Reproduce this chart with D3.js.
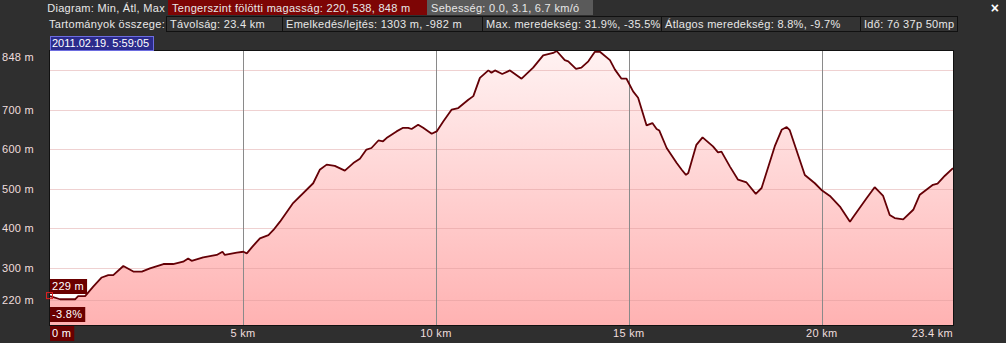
<!DOCTYPE html>
<html>
<head>
<meta charset="utf-8">
<script src="https://cdn.jsdelivr.net/npm/d3@7"></script>
<style>
  body { margin: 0; background: #2f2f2f; }
  svg { display: block; font-family: "Liberation Sans", Arial, sans-serif; letter-spacing: 0.3px; }
  .hdr { font-size: 11px; fill: #e8e8e8; }
  .tick-label { font-size: 11px; fill: #f0dede; }
</style>
</head>
<body>
<div id="chart"></div>
<script>
// Elevation profile
const distanceKm = [0.00, 0.26, 0.65, 0.73, 0.91, 1.12, 1.34, 1.51, 1.64, 1.90, 2.16, 2.38, 2.59, 2.94, 3.19, 3.45, 3.58, 3.67, 3.97, 4.32, 4.47, 4.53, 4.84, 5.01, 5.10, 5.23, 5.44, 5.66, 5.79, 5.96, 6.30, 6.82, 6.99, 7.17, 7.38, 7.64, 7.86, 8.03, 8.20, 8.33, 8.51, 8.63, 8.72, 8.98, 9.15, 9.28, 9.37, 9.54, 9.67, 9.89, 10.02, 10.19, 10.41, 10.58, 10.84, 10.97, 11.14, 11.36, 11.44, 11.53, 11.72, 11.92, 12.22, 12.52, 12.78, 13.04, 13.13, 13.34, 13.43, 13.63, 13.77, 13.95, 14.12, 14.25, 14.51, 14.64, 14.81, 14.94, 15.11, 15.24, 15.46, 15.61, 15.72, 15.79, 15.98, 16.24, 16.37, 16.48, 16.54, 16.75, 16.91, 17.18, 17.31, 17.40, 17.62, 17.83, 18.05, 18.29, 18.44, 18.78, 18.96, 19.09, 19.17, 19.56, 19.82, 19.99, 20.21, 20.47, 20.73, 20.81, 21.16, 21.37, 21.59, 21.76, 21.89, 22.11, 22.37, 22.54, 22.88, 23.00, 23.19, 23.40];
const elevationM = [229, 221, 221, 229, 229, 253, 276, 282, 282, 305, 291, 291, 299, 310, 310, 316, 324, 318, 327, 333, 341, 333, 339, 341, 337, 352, 375, 383, 396, 417, 464, 514, 548, 561, 558, 546, 565, 576, 599, 603, 622, 620, 628, 645, 654, 654, 651, 662, 654, 639, 645, 670, 700, 704, 725, 734, 780, 799, 793, 799, 790, 799, 778, 806, 837, 843, 848, 825, 822, 803, 806, 822, 846, 846, 825, 801, 778, 778, 746, 730, 660, 666, 651, 647, 603, 565, 548, 535, 540, 611, 630, 607, 592, 594, 556, 523, 516, 487, 502, 607, 649, 656, 648, 535, 514, 497, 482, 455, 417, 428, 476, 504, 482, 434, 426, 423, 447, 485, 510, 513, 533, 552];

const yGrid = [800, 700, 600, 500, 400, 300, 220];
const yLabels = [848, 700, 600, 500, 400, 300, 220];
const xTicks = [5, 10, 15, 20];

const headerRow1 = [
  "Tengerszint fölötti magasság: 220, 538, 848 m",
  "Sebesség: 0.0, 3.1, 6.7 km/ó"
];
const headerRow2 = [
  "Távolság: 23.4 km",
  "Emelkedés/lejtés: 1303 m, -982 m",
  "Max. meredekség: 31.9%, -35.5%",
  "Átlagos meredekség: 8.8%, -9.7%",
  "Idő: 7ó 37p 50mp"
];

const W = 1006, H = 343;
const plot = { left: 50, right: 953, top: 51, bottom: 325 };
// header box edges (layout)
const row1Edges = [168, 427, 593];
const row1Fill = ["#7d0505", "#5a5a5a"];
const row2Edges = [166, 282, 482, 661, 860, 957];

const svg = d3.select("#chart").append("svg")
  .attr("width", W).attr("height", H);

svg.append("rect").attr("width", W).attr("height", H).attr("fill", "#2f2f2f");

// header
svg.append("text").attr("class", "hdr").attr("x", 165).attr("y", 12)
  .attr("text-anchor", "end").text("Diagram: Min, Átl, Max");
svg.append("text").attr("class", "hdr").attr("x", 165).attr("y", 28)
  .attr("text-anchor", "end").text("Tartományok összege:");

svg.selectAll(".r1box").data(headerRow1).enter().append("rect")
  .attr("x", (d, i) => row1Edges[i]).attr("y", 0)
  .attr("width", (d, i) => row1Edges[i + 1] - row1Edges[i]).attr("height", 15)
  .attr("fill", (d, i) => row1Fill[i]);
svg.selectAll(".r1txt").data(headerRow1).enter().append("text")
  .attr("class", "hdr").attr("x", (d, i) => row1Edges[i] + 4).attr("y", 12).text(d => d);

svg.selectAll(".r2box").data(headerRow2).enter().append("rect")
  .attr("x", (d, i) => row2Edges[i] + 0.5).attr("y", 16.5)
  .attr("width", (d, i) => row2Edges[i + 1] - row2Edges[i]).attr("height", 15)
  .attr("fill", "#333").attr("stroke", "#111");
svg.selectAll(".r2txt").data(headerRow2).enter().append("text")
  .attr("class", "hdr").attr("x", (d, i) => row2Edges[i] + 4).attr("y", 28).text(d => d);

svg.append("text").attr("x", 995).attr("y", 13).attr("text-anchor", "middle")
  .attr("fill", "#fff").style("font-size", "14px").style("font-weight", "bold").text("×");

// scales
const x = d3.scaleLinear().domain([0, 23.4]).range([plot.left, plot.right]);
const y = d3.scaleLinear().domain([156, 848]).range([plot.bottom, plot.top]);

const data = distanceKm.map((d, i) => ({ km: d, m: elevationM[i] }));

const grad = svg.append("defs").append("linearGradient").attr("id", "fillGrad")
  .attr("gradientUnits", "userSpaceOnUse")
  .attr("x1", 0).attr("x2", 0).attr("y1", plot.top).attr("y2", plot.bottom);
grad.append("stop").attr("offset", 0).attr("stop-color", "#fff2f2");
grad.append("stop").attr("offset", 1).attr("stop-color", "#ffb2b2");

svg.append("rect").attr("x", plot.left).attr("y", plot.top)
  .attr("width", plot.right - plot.left).attr("height", plot.bottom - plot.top)
  .attr("fill", "#fff");

svg.append("path").datum(data)
  .attr("fill", "url(#fillGrad)")
  .attr("d", d3.area().x(d => x(d.km)).y0(plot.bottom).y1(d => y(d.m)));

// grid
svg.selectAll(".hgrid").data(yGrid).enter().append("line")
  .attr("x1", plot.left).attr("x2", plot.right)
  .attr("y1", d => Math.round(y(d)) + 0.5).attr("y2", d => Math.round(y(d)) + 0.5)
  .attr("stroke", "#dc9a9a").attr("stroke-opacity", 0.45);

svg.selectAll(".vgrid").data(xTicks).enter().append("line")
  .attr("x1", d => Math.round(x(d)) + 0.5).attr("x2", d => Math.round(x(d)) + 0.5)
  .attr("y1", plot.top).attr("y2", plot.bottom)
  .attr("stroke", "#8a8a8a");

svg.append("path").datum(data)
  .attr("fill", "none").attr("stroke", "#640006").attr("stroke-width", 1.8)
  .attr("stroke-linejoin", "bevel")
  .attr("d", d3.line().x(d => x(d.km)).y(d => y(d.m)));

// border
svg.append("rect").attr("x", plot.left - 0.5).attr("y", plot.top - 0.5)
  .attr("width", plot.right - plot.left + 1).attr("height", plot.bottom - plot.top + 1)
  .attr("fill", "none").attr("stroke", "#111");

// y labels
svg.selectAll(".ylab").data(yLabels).enter().append("text")
  .attr("class", "tick-label").attr("x", 2)
  .attr("y", d => d === 848 ? y(d) + 10 : y(d) + 4)
  .text(d => d + " m");

// x labels
svg.selectAll(".xlab").data(xTicks).enter().append("text")
  .attr("class", "tick-label").attr("x", d => x(d)).attr("y", 337)
  .attr("text-anchor", "middle").text(d => d + " km");
svg.append("text").attr("class", "tick-label").attr("x", x(23.4)).attr("y", 337)
  .attr("text-anchor", "end").text("23.4 km");

// value boxes
function tag(xp, yp, txt) {
  const g = svg.append("g");
  const t = g.append("text").attr("x", xp + 2).attr("y", yp + 11)
    .attr("fill", "#fff").style("font-size", "11px").text(txt);
  const w = t.node().getComputedTextLength() + 5;
  g.insert("rect", "text").attr("x", xp).attr("y", yp).attr("width", w).attr("height", 15)
    .attr("fill", "#6a0000");
}
tag(plot.left, plot.bottom + 1, "0 m");
tag(plot.left, 279, elevationM[0] + " m");
tag(plot.left, 307, "-3.8%");

// start cursor
svg.append("rect").attr("x", plot.left - 3.5).attr("y", y(elevationM[0]) - 3.5)
  .attr("width", 6).attr("height", 6).attr("fill", "none").attr("stroke", "#e02020");

// date box
const dg = svg.append("g");
dg.append("rect").attr("x", plot.left + 0.5).attr("y", 36.5).attr("width", 103).attr("height", 14)
  .attr("fill", "#2b2b8c").attr("stroke", "#6d6de0");
dg.append("text").attr("x", plot.left + 2).attr("y", 47)
  .attr("fill", "#fff").style("font-size", "11px").style("letter-spacing", "0px")
  .text("2011.02.19. 5:59:05");
</script>
</body>
</html>
